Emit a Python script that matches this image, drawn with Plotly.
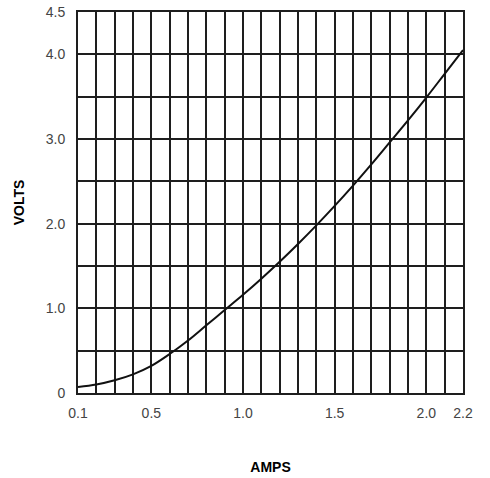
import plotly.graph_objects as go

amps = [0.1, 0.2, 0.3, 0.4, 0.5, 0.6, 0.7, 0.8, 0.9, 1.0, 1.1,
        1.2, 1.3, 1.4, 1.5, 1.6, 1.7, 1.8, 1.9, 2.0, 2.1, 2.2]
volts = [0.07, 0.10, 0.15, 0.22, 0.32, 0.46, 0.62, 0.80, 0.98, 1.16, 1.35,
         1.55, 1.76, 1.98, 2.21, 2.45, 2.70, 2.96, 3.22, 3.49, 3.77, 4.05]

x_tick_vals = [0.1, 0.5, 1.0, 1.5, 2.0, 2.2]
x_tick_text = ["0.1", "0.5", "1.0", "1.5", "2.0", "2.2"]
y_tick_vals = [0, 1, 2, 3, 4, 4.5]
y_tick_text = ["0", "1.0", "2.0", "3.0", "4.0", "4.5"]

GRID = "#1e1e1e"

fig = go.Figure()
fig.add_trace(go.Scatter(x=amps, y=volts, mode="lines",
                         line=dict(color="#111111", width=2, shape="spline", smoothing=1.0),
                         showlegend=False, hoverinfo="skip"))

fig.update_layout(
    width=490, height=478,
    margin=dict(l=78, r=27, t=12, b=85),
    paper_bgcolor="white", plot_bgcolor="white",
    font=dict(family="Liberation Sans, Arial, sans-serif", color="#444444", size=14),
    xaxis=dict(
        range=[0.1, 2.2], tickmode="array", tickvals=x_tick_vals, ticktext=x_tick_text,
        showgrid=True, gridcolor=GRID, gridwidth=2,
        minor=dict(tickmode="linear", tick0=0.1, dtick=0.1, showgrid=True,
                   gridcolor=GRID, gridwidth=2),
        showline=True, linecolor=GRID, linewidth=2, mirror=True,
        zeroline=False, ticks="", ticklabelstandoff=6, automargin=False,
        ticklabeloverflow="allow",
        title=dict(text="<b>AMPS</b>", font=dict(size=14, color="#000000"), standoff=42),
    ),
    yaxis=dict(
        range=[0, 4.5], tickmode="array", tickvals=y_tick_vals, ticktext=y_tick_text,
        showgrid=True, gridcolor=GRID, gridwidth=2,
        minor=dict(tickmode="linear", tick0=0, dtick=0.5, showgrid=True,
                   gridcolor=GRID, gridwidth=2),
        showline=True, linecolor=GRID, linewidth=2, mirror=True,
        zeroline=False, ticks="", ticklabelstandoff=8, automargin=False,
        ticklabeloverflow="allow",
        title=dict(text="<b>VOLTS</b>", font=dict(size=14, color="#000000"), standoff=18),
    ),
)

fig.write_html("out.html", config={"displayModeBar": False},
               post_script="document.body.style.margin='0';")
